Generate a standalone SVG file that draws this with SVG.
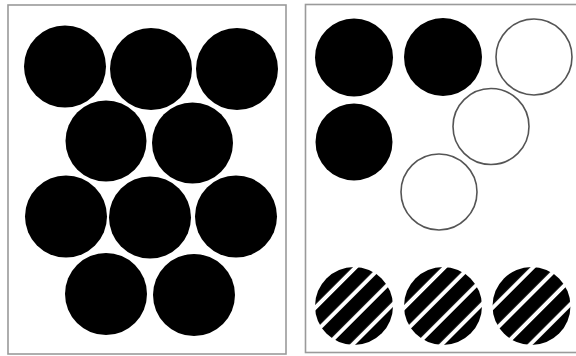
<svg xmlns="http://www.w3.org/2000/svg" width="576" height="356" viewBox="0 0 576 356">
<style>
.frame{fill:#fff;stroke:#9a9a9a;stroke-width:1.6}
.dot{fill:#000}
.ring{fill:none;stroke:#555;stroke-width:1.6}
.stripe{fill:url(#hatch)}
</style>
<defs>
<pattern id="hatch" patternUnits="userSpaceOnUse" width="17.5" height="40" x="-6.75" patternTransform="rotate(45)">
<rect x="0" y="0" width="17.5" height="40" fill="#000"/>
<rect x="13.5" y="0" width="4" height="40" fill="#fff"/>
</pattern>
</defs>
<rect width="576" height="356" fill="#fff"/>
<g id="left-panel">
<rect class="frame" x="8" y="5" width="278" height="349"/>
<g id="left-row1">
<circle class="dot" cx="65" cy="66.5" r="41"/>
<circle class="dot" cx="151" cy="69" r="41"/>
<circle class="dot" cx="237" cy="69" r="41"/>
</g>
<g id="left-row2">
<circle class="dot" cx="106" cy="141" r="40.5"/>
<circle class="dot" cx="192.5" cy="143" r="40.5"/>
</g>
<g id="left-row3">
<circle class="dot" cx="66" cy="216.5" r="41"/>
<circle class="dot" cx="150" cy="217.5" r="41"/>
<circle class="dot" cx="236" cy="216.5" r="41"/>
</g>
<g id="left-row4">
<circle class="dot" cx="106" cy="294" r="41"/>
<circle class="dot" cx="194" cy="295" r="41"/>
</g>
</g>
<g id="right-panel">
<rect class="frame" x="305.5" y="4.5" width="275" height="348"/>
<g id="right-filled">
<circle class="dot" cx="354" cy="57.5" r="39"/>
<circle class="dot" cx="443" cy="57" r="39"/>
<circle class="dot" cx="354" cy="142" r="38.5"/>
</g>
<g id="right-open">
<circle class="ring" cx="534" cy="57" r="38"/>
<circle class="ring" cx="491" cy="126.5" r="38"/>
<circle class="ring" cx="439" cy="192" r="38"/>
</g>
<g id="right-striped">
<g transform="translate(354 306)"><circle class="stripe" cx="0" cy="0" r="39"/></g>
<g transform="translate(443 306)"><circle class="stripe" cx="0" cy="0" r="39"/></g>
<g transform="translate(531.5 306)"><circle class="stripe" cx="0" cy="0" r="39"/></g>
</g>
</g>
</svg>
